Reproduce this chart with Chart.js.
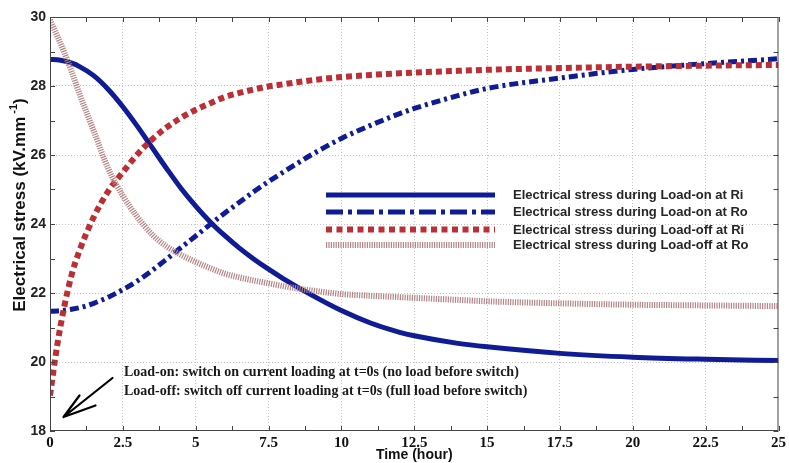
<!DOCTYPE html>
<html lang="en">
<head>
<meta charset="UTF-8">
<title>Electrical stress</title>
<script src="https://cdn.jsdelivr.net/npm/chart.js"></script>
<style>
    * { margin: 0; padding: 0; }
    body { background: #fff; }
    #wrap { width: 789px; height: 463px; position: relative; }
</style>
</head>
<body>
<div id="wrap"><canvas id="grafico"></canvas></div>
<script>
// time after switching (hour)
const tempo = [0, 0.25, 0.5, 0.75, 1, 1.5, 2, 2.5, 3, 3.5, 4, 4.5, 5, 5.5, 6, 6.5, 7, 7.5, 8, 9, 10, 11, 12, 12.5, 14, 15, 17.5, 20, 22.5, 25];

// electrical stress (kV/mm)
const loadOnRi = [28.77, 28.76, 28.72, 28.66, 28.57, 28.3, 27.9, 27.4, 26.83, 26.22, 25.61, 25.03, 24.52, 24.06, 23.66, 23.3, 22.98, 22.69, 22.42, 21.93, 21.49, 21.13, 20.86, 20.76, 20.54, 20.44, 20.25, 20.14, 20.08, 20.04];
const loadOnRo = [21.47, 21.48, 21.5, 21.53, 21.57, 21.7, 21.88, 22.1, 22.35, 22.65, 22.98, 23.32, 23.65, 23.99, 24.32, 24.63, 24.94, 25.23, 25.5, 26.02, 26.48, 26.86, 27.2, 27.35, 27.72, 27.93, 28.23, 28.48, 28.65, 28.79];
const loadOffRi = [19.03, 20.5, 21.65, 22.55, 23.2, 24.2, 24.95, 25.5, 26.02, 26.45, 26.8, 27.08, 27.31, 27.5, 27.68, 27.8, 27.9, 27.99, 28.05, 28.17, 28.26, 28.32, 28.37, 28.39, 28.44, 28.47, 28.52, 28.56, 28.59, 28.61];
const loadOffRo = [29.91, 29.45, 28.95, 28.4, 27.8, 26.7, 25.6, 24.82, 24.2, 23.7, 23.35, 23.1, 22.9, 22.72, 22.56, 22.45, 22.36, 22.28, 22.2, 22.07, 21.97, 21.92, 21.88, 21.86, 21.8, 21.76, 21.7, 21.66, 21.64, 21.62];

const legendas = [
    'Electrical stress during Load-on at Ri',
    'Electrical stress during Load-on at Ro',
    'Electrical stress during Load-off at Ri',
    'Electrical stress during Load-off at Ro'
];
const notas = [
    'Load-on: switch on current loading at t=0s (no load before switch)',
    'Load-off: switch off current loading at t=0s (full load before switch)'
];

const azul = '#101c96';
const vermelho = '#bb2f35';
const rosado = '#b58484';

const pontos = (serie) => tempo.map((t, i) => ({ x: t, y: serie[i] }));

// line samples used in the legend box
const amostras = [
    { color: azul, width: 5, dash: [] },
    { color: azul, width: 5, dash: [17, 5, 4, 5] },
    { color: vermelho, width: 6, dash: [6, 4.5] },
    { color: rosado, width: 6, dash: [1.2, 1.2] }
];

const gridCor = '#c4c4c4';

// frame, inner ticks, legend, notes and axis titles
const moldura = {
    id: 'moldura',
    afterDatasetsDraw(chart) {
        const ctx = chart.ctx;
        const a = chart.chartArea;
        const sx = chart.scales.x;
        const sy = chart.scales.y;

        ctx.save();
        ctx.strokeStyle = '#444';
        ctx.lineWidth = 1;
        ctx.setLineDash([]);
        ctx.strokeRect(a.left + 0.5, a.top + 0.5, a.right - a.left - 1, a.bottom - a.top - 1);

        // ticks pointing inwards
        ctx.beginPath();
        sx.ticks.forEach(t => {
            const px = Math.round(sx.getPixelForValue(t.value)) + 0.5;
            ctx.moveTo(px, a.bottom); ctx.lineTo(px, a.bottom - 5);
            ctx.moveTo(px, a.top); ctx.lineTo(px, a.top + 5);
        });
        sy.ticks.forEach(t => {
            const py = Math.round(sy.getPixelForValue(t.value)) + 0.5;
            ctx.moveTo(a.left, py); ctx.lineTo(a.left + 5, py);
            ctx.moveTo(a.right, py); ctx.lineTo(a.right - 5, py);
        });
        ctx.stroke();

        // legend
        const ys = [195, 212, 229.5, 245];
        amostras.forEach((s, i) => {
            ctx.beginPath();
            ctx.strokeStyle = s.color;
            ctx.lineWidth = s.width;
            ctx.lineCap = 'butt';
            ctx.setLineDash(s.dash);
            ctx.moveTo(326, ys[i]);
            ctx.lineTo(495, ys[i]);
            ctx.stroke();
        });
        ctx.setLineDash([]);
        ctx.fillStyle = '#262626';
        ctx.font = 'bold 13px Arial, "Liberation Sans", sans-serif';
        ctx.textAlign = 'left';
        ctx.textBaseline = 'middle';
        legendas.forEach((txt, i) => ctx.fillText(txt, 513, ys[i] + 0.5));

        // notes
        ctx.fillStyle = '#1a1a1a';
        ctx.font = 'bold 14px "Times New Roman", "Liberation Serif", serif';
        ctx.fillText(notas[0], 124, 372);
        ctx.fillText(notas[1], 124, 391);

        // arrow
        ctx.strokeStyle = '#000';
        ctx.lineWidth = 2.2;
        ctx.lineCap = 'round';
        ctx.beginPath();
        ctx.moveTo(112.5, 378);
        ctx.lineTo(63.5, 417);
        ctx.moveTo(63.5, 417);
        ctx.lineTo(79.5, 395.5);
        ctx.moveTo(63.5, 417);
        ctx.lineTo(95.5, 405.5);
        ctx.stroke();

        // axis titles
        ctx.fillStyle = '#111';
        ctx.textAlign = 'center';
        ctx.font = 'bold 14px Arial, "Liberation Sans", sans-serif';
        ctx.fillText('Time (hour)', (a.left + a.right) / 2, 455);

        ctx.translate(20, 205);
        ctx.rotate(-Math.PI / 2);
        const base = 'Electrical stress (kV.mm';
        const fonteT = 'bold 17px Arial, "Liberation Sans", sans-serif';
        const fonteS = 'bold 11px Arial, "Liberation Sans", sans-serif';
        ctx.font = fonteT;
        const w1 = ctx.measureText(base).width;
        const w3 = ctx.measureText(')').width;
        ctx.font = fonteS;
        const w2 = ctx.measureText(' -1').width;
        const x0 = -(w1 + w2 + w3) / 2;
        ctx.textAlign = 'left';
        ctx.font = fonteT;
        ctx.fillText(base, x0, 0);
        ctx.font = fonteS;
        ctx.fillText(' -1', x0 + w1, -6);
        ctx.font = fonteT;
        ctx.fillText(')', x0 + w1 + w2, 0);
        ctx.restore();
    }
};

new Chart(document.getElementById('grafico'), {
    type: 'line',
    data: {
        datasets: [
            { label: legendas[0], data: pontos(loadOnRi), borderColor: azul, borderWidth: 5, order: 4 },
            { label: legendas[1], data: pontos(loadOnRo), borderColor: azul, borderWidth: 5, borderDash: [9, 4, 3, 4], order: 3 },
            { label: legendas[2], data: pontos(loadOffRi), borderColor: vermelho, borderWidth: 6, borderDash: [6, 4], order: 2 },
            { label: legendas[3], data: pontos(loadOffRo), borderColor: rosado, borderWidth: 6, borderDash: [1.2, 1.2], order: 1 }
        ]
    },
    options: {
        responsive: true,
        maintainAspectRatio: false,
        animation: false,
        layout: { padding: { top: 17, right: 10, left: 0, bottom: 0 } },
        elements: {
            point: { radius: 0 },
            line: { cubicInterpolationMode: 'monotone', borderCapStyle: 'butt', fill: false }
        },
        plugins: { legend: { display: false }, tooltip: { enabled: false } },
        scales: {
            x: {
                type: 'linear', min: 0, max: 25,
                afterFit: (s) => { s.height = 32; },
                ticks: {
                    stepSize: 1.25, autoSkip: false, maxRotation: 0, padding: 3,
                    color: '#111',
                    font: { family: '"Times New Roman", "Liberation Serif", serif', weight: 'bold', size: 15 },
                    callback: (v) => (v % 2.5 === 0 ? String(v) : '')
                },
                grid: {
                    drawTicks: false,
                    color: (c) => (c.tick && c.tick.value % 2.5 === 0 && c.tick.value > 0 && c.tick.value < 25 ? gridCor : 'rgba(0,0,0,0)')
                },
                border: { display: false, dash: [1, 2] }
            },
            y: {
                min: 18, max: 30,
                afterFit: (s) => { s.width = 50; },
                ticks: {
                    stepSize: 1, autoSkip: false, padding: 4,
                    color: '#222',
                    font: { family: 'Arial, "Liberation Sans", sans-serif', weight: 'bold', size: 14 },
                    callback: (v) => (v % 2 === 0 ? String(v) : '')
                },
                grid: {
                    drawTicks: false,
                    color: (c) => (c.tick && c.tick.value % 2 === 0 && c.tick.value > 18 && c.tick.value < 30 ? gridCor : 'rgba(0,0,0,0)')
                },
                border: { display: false, dash: [1, 2] }
            }
        }
    },
    plugins: [moldura]
});
</script>
</body>
</html>
